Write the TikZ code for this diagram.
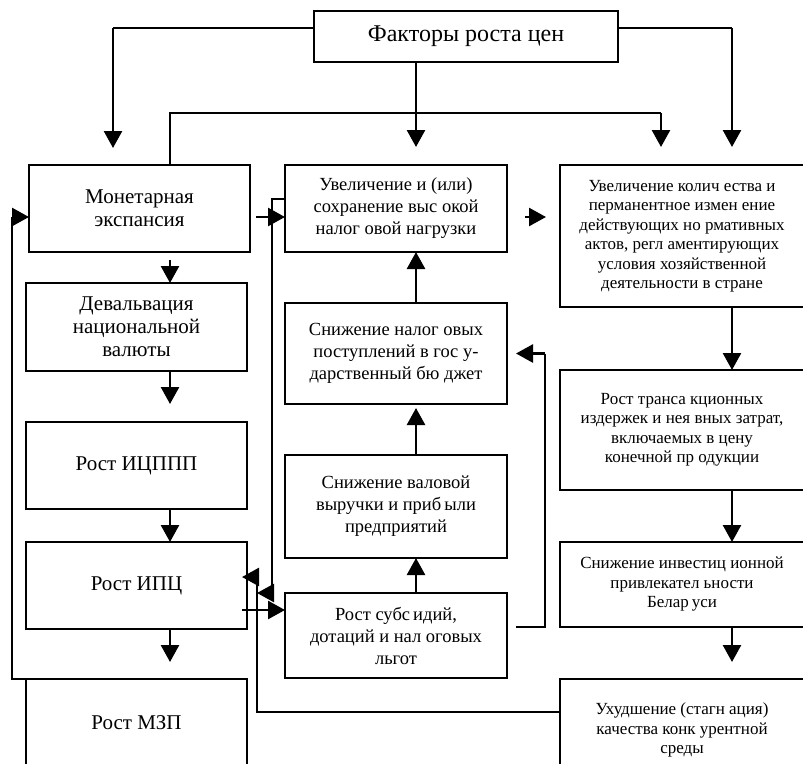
\documentclass[tikz,border=0pt]{standalone}
\usepackage{fontspec}
\setmainfont{Liberation Serif}
\usepackage{tikz}
\usetikzlibrary{positioning, arrows.meta}

\tikzset{
	box/.style={draw, line width=1.3pt, align=center, inner sep=2pt, outer sep=0pt},
	lbox/.style={box, minimum width=221pt, minimum height=87pt, font=\fontsize{21}{23}\selectfont},
	cbox/.style={box, minimum width=222pt, font=\fontsize{18.5}{22}\selectfont},
	rbox/.style={box, minimum width=244pt, font=\fontsize{17}{19.5}\selectfont},
	link/.style={line width=1.5pt},
	arr/.style={line width=2.6pt, -{Triangle[width=18pt,length=17pt]}}
}

\begin{document}
\begin{tikzpicture}[x=1pt, y=-1pt]
			\clip (0,0) rectangle (803,763);
			\node[box, minimum width=304pt, minimum height=51pt, font=\fontsize{24}{28}\selectfont] (factors) at (466,36.5) {Факторы роста цен};
			
			% left column
			\node[lbox] (monet) at (139.5,208.5) {Монетарная\\экспансия};
			\node[lbox, minimum height=88pt] (deval) at (136.5,327) {Девальвация\\национальной\\валюты};
			\node[lbox, below=51pt of deval] (icppp) {Рост ИЦППП};
			\node[lbox, below=33pt of icppp] (ipc) {Рост ИПЦ};
			\node[lbox, below=50pt of ipc] (mzp) {Рост МЗП};
			
			% middle column
			\node[cbox, minimum height=87pt] (nalnagr) at (396,208.5) {Увеличение и (или)\\сохранение выс окой\\налог овой нагрузки};
			\node[cbox, minimum height=101pt, below=51pt of nalnagr] (nalpost) {Снижение налог овых\\поступлений в гос у-\\дарственный бю джет};
			\node[cbox, minimum height=103pt, below=51pt of nalpost] (vyruchka) {Снижение валовой\\выручки и приб\,ыли\\предприятий};
			\node[cbox, minimum height=85pt, below=35pt of vyruchka] (subsid) {Рост субс\,идий,\\дотаций и нал оговых\\льгот};
			
			% right column
			\node[rbox, minimum height=142pt] (normakty) at (682,236) {Увеличение колич ества и\\перманентное измен ение\\действующих но рмативных\\актов, регл аментирующих\\условия хозяйственной\\деятельности в стране};
			\node[rbox, minimum height=120pt, below=63pt of normakty] (transizd) {Рост транса кционных\\издержек и нея вных затрат,\\включаемых в цену\\конечной пр одукции};
			\node[rbox, minimum height=85pt, below=52pt of transizd] (invest) {Снижение инвестиц ионной\\привлекател ьности\\Белар\,уси};
			\node[rbox, minimum height=102pt, below=52pt of invest] (konkur) {Ухудшение (стагн ация)\\качества конк урентной\\среды};
			
			\coordinate (fl) at (113,28);
			\coordinate (fr) at (732,28);
			\coordinate (ml) at (170,113);
			\coordinate (mr) at (661,113);
			\coordinate (fb) at (12,217);
			\coordinate (sl) at (545,627);
			\coordinate (kv) at (257,577);
			\coordinate (nv) at (272,593);
			
			% from the top box
			\draw[link] (factors.west |- fl) -- (fl);
			\draw[arr, shorten >=17pt] (fl) -- (fl |- monet.north);
			\draw[arr, shorten >=18pt] ([xshift=20pt]nalnagr.north |- factors.south) -- ([xshift=20pt]nalnagr.north);
			\draw[link] (factors.east |- fr) -- (fr);
			\draw[arr, shorten >=18pt] (fr) -- (fr |- normakty.north);
			\draw[link] (ml |- monet.north) -- (ml) -- (mr);
			\draw[arr, shorten >=18pt] (mr) -- (mr |- normakty.north);
			
			% left column
			\draw[arr, shorten <=8pt] (ml |- monet.south) -- (ml |- deval.north);
			\draw[arr, shorten >=18pt] (ml |- deval.south) -- (ml |- icppp.north);
			\draw[arr] (ml |- icppp.south) -- (ml |- ipc.north);
			\draw[arr, shorten >=17pt] (ml |- ipc.south) -- (ml |- mzp.north);
			\draw[link] (mzp.north west) -- (mzp.north west -| fb) -- (fb);
			\draw[arr] (fb) -- (fb -| monet.west);
			
			% across
			\draw[arr, shorten <=6pt] ([yshift=-8.5pt]monet.east) -- ([yshift=-8.5pt]monet.east -| nalnagr.west);
			\draw[arr, shorten <=18pt, shorten >=14pt] ([yshift=-8.5pt]nalnagr.east) -- ([yshift=-8.5pt]nalnagr.east -| normakty.west);
			\draw[arr, shorten <=-5pt] ([yshift=-24.5pt]ipc.east) -- ([yshift=-24.5pt]ipc.east -| subsid.west);
			\draw[link] ([yshift=9.5pt]nalnagr.west) -| (nv);
			\draw[arr] (nv) -- (nv -| kv);
			\draw[link] ([yshift=18pt]konkur.west) -| (kv);
			\draw[arr, shorten >=-5pt] (kv) -- (kv -| ipc.east);
			
			% middle column
			\draw[arr] ([xshift=20pt]nalpost.north) -- ([xshift=20pt]nalnagr.south);
			\draw[arr, shorten >=4pt] ([xshift=20pt]vyruchka.north) -- ([xshift=20pt]nalpost.south);
			\draw[arr] ([xshift=20pt]subsid.north) -- ([xshift=20pt]vyruchka.south);
			\draw[link, shorten <=9pt] ([yshift=8.5pt]subsid.east) -- (sl) -- (sl |- nalpost.east);
			\draw[arr, shorten >=9pt] (sl |- nalpost.east) -- (nalpost.east);
			
			% right column
			\draw[arr] (fr |- normakty.south) -- (fr |- transizd.north);
			\draw[arr] (fr |- transizd.south) -- (fr |- invest.north);
			\draw[arr, shorten >=17pt] (fr |- invest.south) -- (fr |- konkur.north);
		\end{tikzpicture}
\end{document}
